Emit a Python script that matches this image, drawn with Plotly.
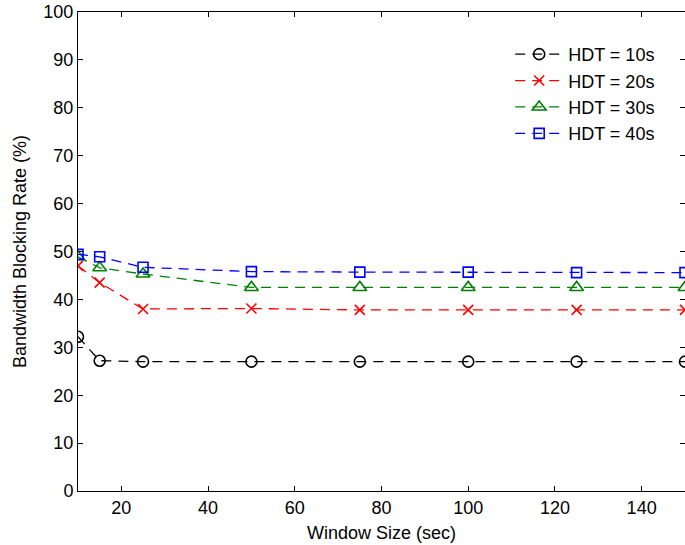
import plotly.graph_objects as go

window_size = [10, 15, 25, 50, 75, 100, 125, 150]
hdt10 = [32.2, 27.2, 27.0, 27.0, 27.0, 27.0, 27.0, 27.0]
hdt20 = [47.0, 43.5, 38.0, 38.1, 37.8, 37.8, 37.8, 37.8]
hdt30 = [48.9, 46.6, 45.3, 42.5, 42.5, 42.5, 42.5, 42.5]
hdt40 = [49.4, 48.9, 46.7, 45.8, 45.7, 45.7, 45.6, 45.6]
labels = ["HDT = 10s", "HDT = 20s", "HDT = 30s", "HDT = 40s"]
x_ticks = [20, 40, 60, 80, 100, 120, 140]
y_ticks = [0, 10, 20, 30, 40, 50, 60, 70, 80, 90, 100]

series = [
    (hdt10, labels[0], "#000000", "circle-open", 11),
    (hdt20, labels[1], "#ff0000", "x-thin-open", 10),
    (hdt30, labels[2], "#008000", "triangle-up-open", 12),
    (hdt40, labels[3], "#0000ff", "square-open", 10),
]

fig = go.Figure()
for ys, name, color, sym, sz in series:
    fig.add_trace(go.Scatter(
        x=window_size, y=ys, name=name, mode="lines+markers",
        line=dict(color=color, width=1.3, dash="10px,7px"),
        marker=dict(symbol=sym, size=sz, color=color, line=dict(color=color, width=1.6)),
    ))

font = "Liberation Sans, Arial, Helvetica, sans-serif"
axis_common = dict(
    showline=True, linecolor="black", linewidth=1, mirror="ticks",
    ticks="inside", ticklen=5, tickcolor="black", tickwidth=1,
    showgrid=False, zeroline=False,
    tickfont=dict(family=font, size=18, color="black"),
)
fig.update_xaxes(range=[10, 150], tickvals=x_ticks,
                 title=dict(text="Window Size (sec)", font=dict(family=font, size=18, color="black"), standoff=9),
                 **axis_common)
fig.update_yaxes(range=[0, 100], tickvals=y_ticks,
                 title=dict(text="Bandwidth Blocking Rate (%)", font=dict(family=font, size=18, color="black"), standoff=12),
                 **axis_common)

fig.update_layout(
    width=685, height=545,
    margin=dict(l=78, r=0, t=12, b=54),
    plot_bgcolor="white", paper_bgcolor="white",
    font=dict(family=font, size=18, color="black"),
    legend=dict(x=0.712, y=0.950, xanchor="left", yanchor="top",
                itemwidth=48,
                bgcolor="rgba(255,255,255,0)", borderwidth=0,
                font=dict(family=font, size=18, color="black")),
)

fig.write_html("out.html")
